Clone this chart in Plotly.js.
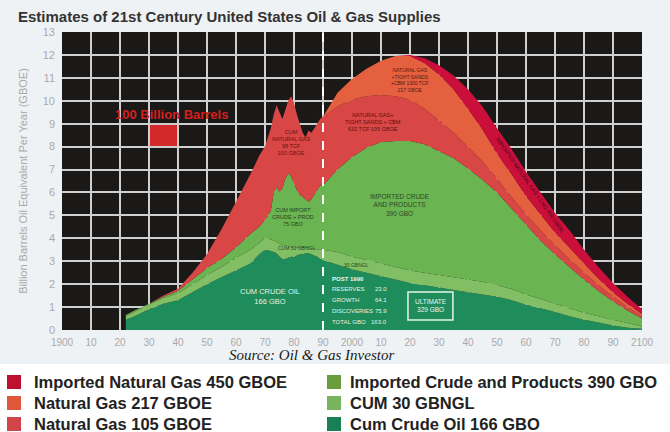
<!DOCTYPE html>
<html><head><meta charset="utf-8">
<script src="https://cdn.plot.ly/plotly-3.0.1.min.js"></script>
<style>html,body{margin:0;padding:0;background:#eff2f5;}#chart{width:670px;height:432px;}</style>
</head><body><div id="chart"></div>
<script>
// ---------- data (layer thickness per year, GBOE / year) ----------
const years = [1922,1925,1930,1935,1940,1945,1950,1955,1960,1965,1968,1970,1972,1973,1974,1975,1976,1977,1978,1979,1980,1981,1982,1983,1984,1985,1986,1987,1988,1989,1990,1995,2000,2005,2010,2015,2020,2025,2030,2035,2040,2045,2050,2055,2060,2065,2070,2075,2080,2085,2090,2095,2100];
const cumCrudeOil   = [0.45,0.6,0.9,1.15,1.3,1.65,2.0,2.3,2.6,2.9,3.3,3.5,3.45,3.4,3.35,3.2,3.1,3.1,3.15,3.2,3.2,3.25,3.3,3.3,3.35,3.35,3.3,3.25,3.2,3.1,3.05,2.85,2.65,2.5,2.35,2.2,2.05,1.95,1.85,1.75,1.65,1.55,1.45,1.3,1.1,0.95,0.78,0.6,0.45,0.33,0.2,0.1,0.05];
const cum30Gbngl    = [0.15,0.2,0.2,0.25,0.3,0.35,0.4,0.45,0.55,0.6,0.5,0.5,0.5,0.5,0.5,0.55,0.6,0.6,0.5,0.4,0.4,0.35,0.3,0.3,0.25,0.25,0.25,0.3,0.3,0.4,0.45,0.55,0.55,0.55,0.55,0.55,0.55,0.55,0.55,0.55,0.55,0.55,0.5,0.5,0.45,0.4,0.37,0.35,0.3,0.27,0.25,0.2,0.1];
const importedCrude = [0.05,0.05,0.05,0.05,0.1,0.2,0.3,0.35,0.45,0.7,0.7,0.8,1.25,2.1,2.4,2.25,2.5,2.9,3.2,3.1,2.8,2.5,2.3,2.2,2.1,2.0,2.15,2.35,2.6,2.8,2.8,3.6,4.35,4.9,5.3,5.5,5.65,5.6,5.4,5.2,4.85,4.45,4.05,3.5,3.05,2.55,2.15,1.8,1.45,1.1,0.8,0.55,0.35];
const naturalGas105 = [0,0,0,0.05,0.1,0.3,0.6,1.3,2.0,2.6,3.1,3.2,3.6,3.4,3.55,3.5,3.0,3.0,3.15,3.5,3.5,3.3,3.1,2.8,2.7,3.1,2.9,2.9,2.9,2.9,3.0,2.75,2.5,2.25,2.05,1.95,1.8,1.55,1.35,1.1,0.95,0.8,0.6,0.5,0.45,0.45,0.4,0.35,0.3,0.25,0.2,0.15,0.1];
const naturalGas217 = [0,0,0,0,0,0,0,0,0,0,0,0,0,0,0,0,0,0,0,0,0,0,0,0,0,0,0,0,0,0,0,0.6,0.9,1.2,1.5,1.75,1.9,2.0,2.0,1.9,1.65,1.4,1.1,1.0,0.8,0.7,0.55,0.5,0.4,0.3,0.2,0.15,0.1];
const importedGas   = [0,0,0,0,0,0,0,0,0,0,0,0,0,0,0,0,0,0,0,0,0,0,0,0,0,0,0,0,0,0,0,0,0,0,0,0,0.05,0.2,0.4,0.6,0.85,1.0,1.1,1.1,1.05,0.95,0.85,0.75,0.6,0.5,0.4,0.3,0.2];

const tickYears  = [1900,1910,1920,1930,1940,1950,1960,1970,1980,1990,2000,2010,2020,2030,2040,2050,2060,2070,2080,2090,2100];
const tickLabels = ['1900','10','20','30','40','50','60','70','80','90','2000','10','20','30','40','50','60','70','80','90','2100'];

const legendLabels = ['Imported Natural Gas 450 GBOE','Natural Gas 217 GBOE','Natural Gas 105 GBOE',
                      'Imported Crude and Products 390 GBO','CUM 30 GBNGL','Cum Crude Oil 166 GBO'];
const postRows = ['RESERVES','GROWTH','DISCOVERIES','TOTAL GBO'];
const postVals = ['23.0','64.1','75.9','163.0'];

// ---------- styles ----------
const fillColors   = ['#1f8c5b','#82be64','#6bb452','#d84646','#e5603e','#cb0f3b'];
const legendColors = ['#c0102f','#e0583c','#d0454a','#6a9e3c','#79b35b','#1a7f55'];
const series = [cumCrudeOil, cum30Gbngl, importedCrude, naturalGas105, naturalGas217, importedGas];

const traces = series.map((s,i)=>({
  x: years, y: s, type:'scatter', mode:'none', stackgroup:'one',
  fillcolor: fillColors[i], showlegend:false, hoverinfo:'skip'
}));

// plot area in pixels: x 62..642, y 32..330
const L=62, R=642, T=32, B=330;
const px = p => (p-L)/(R-L);
const py = p => (B-p)/(B-T);

const shapes = [];
const annotations = [];

shapes.push({type:'rect', xref:'x', yref:'y', x0:1930, x1:1940, y0:8, y1:9, fillcolor:'#d3292b', line:{width:0}, layer:'below'});
shapes.push({type:'line', xref:'x', yref:'y', x0:1990, x1:1990, y0:0, y1:13, line:{color:'#ffffff', width:2, dash:'dash'}, layer:'above'});
shapes.push({type:'rect', xref:'x', yref:'y', x0:2019.3, x1:2034.8, y0:0.44, y1:1.66, line:{color:'#e8f4ea', width:1.5}, layer:'above'});
shapes.push({type:'rect', xref:'paper', yref:'paper', x0:px(0), x1:px(670), y0:py(432), y1:py(364), fillcolor:'#ffffff', line:{width:0}, layer:'below'});

const sf = 'Liberation Sans, Arial, sans-serif';
function note(x,y,text,size,color,extra){
  annotations.push(Object.assign({xref:'x', yref:'y', x:x, y:y, text:text, showarrow:false,
    font:{family:sf, size:size, color:color}}, extra||{}));
}
note(1937.6, 9.42, '100 Billion Barrels', 13, '#d41f1f', {font:{family:sf,size:13,color:'#d41f1f',weight:'bold'}});
note(1979.3, 8.16, 'CUM<br>NATURAL GAS<br>98 TCF<br>100 GBOE', 5.5, '#6a1414');
note(1979.7, 4.93, 'CUM IMPORT<br>CRUDE + PROD<br>75 GBO', 5.5, '#24461e');
note(1981, 3.58, 'CUM 30 GBNGL', 5, '#24461e');
note(1971.7, 1.48, 'CUM CRUDE OIL<br>166 GBO', 7.5, '#e2f2e6');
note(2007.2, 9.07, 'NATURAL GAS+<br>TIGHT SANDS + CBM<br>632 TCF 105 GBOE', 5.5, '#5a1212');
note(2020, 10.9, 'NATURAL GAS<br>+TIGHT SANDS<br>+CBM 1300 TCF<br>217 GBOE', 5, '#5a1a10');
note(2016.6, 5.45, 'IMPORTED CRUDE<br>AND PRODUCTS<br>390 GBO', 6.5, '#2b4822');
note(2001.7, 2.83, '30 GBNGL', 5, '#24461e');
note(2027.1, 1.05, 'ULTIMATE<br>329 GBO', 6.5, '#eef8f0');
note(2061.4, 6.33, 'IMPORTED NATURAL GAS + LNG 450 GBOE', 5.5, '#4a0816', {textangle:55});
note(1992.4, 2.22, 'POST 1990', 6, '#eef8f0', {xanchor:'left', font:{family:sf,size:6,color:'#eef8f0',weight:'bold'}});
const rowY = [1.79,1.31,0.83,0.35];
postRows.forEach((r,i)=>{
  note(1992.4, rowY[i], r, 6, '#e2f2e6', {xanchor:'left'});
  note(2012.8, rowY[i], postVals[i], 6, '#e2f2e6', {xanchor:'right'});
});

annotations.push({xref:'paper', yref:'paper', x:px(311), y:py(355), xanchor:'center', yanchor:'middle',
  text:'Source: Oil & Gas Investor', showarrow:false,
  font:{family:'Liberation Serif, Times New Roman, serif', size:15, color:'#1a1a1a', style:'italic'}});

const colSq = [7, 327], colTx = [32, 348], rowsY = [382, 403, 424];
legendLabels.forEach((lab,i)=>{
  const c = Math.floor(i/3), r = i%3;
  shapes.push({type:'rect', xref:'paper', yref:'paper', x0:px(colSq[c]), x1:px(colSq[c]+14), y0:py(rowsY[r]+7), y1:py(rowsY[r]-7),
    fillcolor:legendColors[i], line:{width:0}});
  annotations.push({xref:'paper', yref:'paper', x:px(colTx[c]), y:py(rowsY[r]), xanchor:'left', yanchor:'middle', text:lab, showarrow:false,
    font:{family:sf, size:16.5, color:'#222222', weight:'bold'}});
});

const layout = {
  width:670, height:432,
  margin:{l:L, r:670-R, t:T, b:432-B, pad:0},
  paper_bgcolor:'#eff2f5', plot_bgcolor:'#1b1917',
  title:{text:'Estimates of 21st Century United States Oil & Gas Supplies', xref:'container', yref:'container',
    x:18/670, xanchor:'left', y:1-17/432, yanchor:'middle',
    font:{family:sf, size:15, color:'#333333', weight:'bold'}},
  xaxis:{range:[1900,2100], tickvals:tickYears, ticktext:tickLabels, showgrid:true, gridcolor:'#cfcfcf', gridwidth:2,
    zeroline:false, showline:false, ticks:'', ticklabelstandoff:5, tickfont:{family:sf, size:10, color:'#a9a9a9'}, fixedrange:true},
  yaxis:{range:[0,13], dtick:1, showgrid:true, gridcolor:'#cfcfcf', gridwidth:2, zeroline:false, showline:false,
    ticks:'', ticklabelstandoff:6, tickfont:{family:sf, size:11, color:'#a9a9a9'},
    title:{text:'Billion Barrels Oil Equivalent Per Year (GBOE)', font:{family:sf, size:11, color:'#a9a9a9'}, standoff:12}, fixedrange:true},
  shapes:shapes, annotations:annotations, showlegend:false
};

Plotly.newPlot('chart', traces, layout, {staticPlot:true, displayModeBar:false});
</script>
</body></html>
